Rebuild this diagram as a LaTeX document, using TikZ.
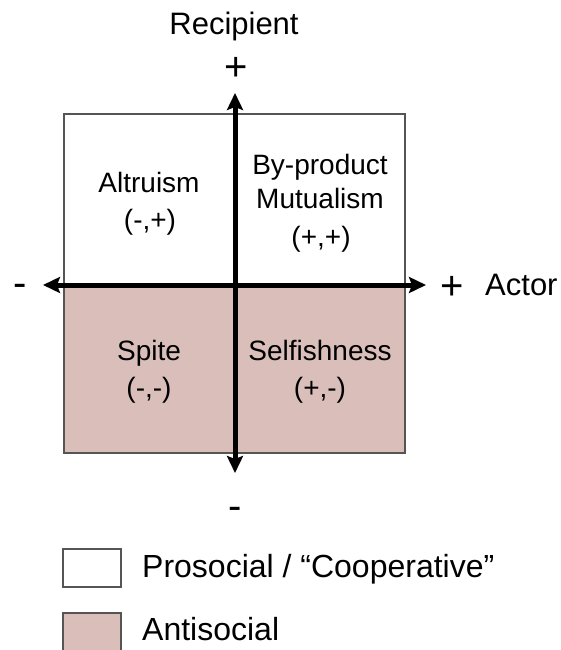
\documentclass[tikz,border=0pt]{standalone}
\usepackage{fontspec}
\setmainfont{Liberation Sans}
\usetikzlibrary{arrows.meta}
\definecolor{pinkfill}{RGB}{217,190,186}
\definecolor{boxgray}{RGB}{85,85,85}
\tikzset{
  quadlabel/.style={anchor=base, inner sep=0pt, font=\fontsize{28}{30}\selectfont},
  signlabel/.style={anchor=base, inner sep=0pt, font=\fontsize{40}{42}\selectfont},
  axislabel/.style={anchor=base, inner sep=0pt, font=\fontsize{31}{33}\selectfont},
  legendtext/.style={anchor=base west, inner sep=0pt, font=\fontsize{32}{34}\selectfont},
  boxline/.style={draw=boxgray, line width=2pt},
  axisline/.style={line width=5pt, {Stealth[length=17pt,width=16pt,inset=3pt]}-{Stealth[length=17pt,width=16pt,inset=3pt]}},
}
\begin{document}
\begin{tikzpicture}[x=1pt,y=-1pt]
\useasboundingbox (0,0) rectangle (560,650);
% quadrant box
\fill[pinkfill] (64,285) rectangle (405,453);
\draw[boxline] (64,114) rectangle (405,453);
% axes
\coordinate (left) at (43,285);
\coordinate (right) at (426,285);
\coordinate (top) at (235,93);
\coordinate (bottom) at (235,473);
\draw[axisline] (left) -- (right);
\draw[axisline] (bottom) -- (top);
% axis labels
\node[axislabel] (recipient) at (234,35) {Recipient};
\node[signlabel] (topplus) at (236,81) {+};
\node[signlabel] (leftminus) at (20,296) {-};
\node[signlabel] (rightplus) at (452,299) {+};
\node[axislabel, anchor=base west] (actor) at (485,295) {Actor};
\node[signlabel] (bottomminus) at (235,519) {-};
% quadrant labels
\node[quadlabel] (altruism) at (149,192) {Altruism};
\node[quadlabel] (altruismsign) at (150,229) {(-,+)};
\node[quadlabel] (byproduct) at (320,174) {By-product};
\node[quadlabel] (mutualism) at (320,208) {Mutualism};
\node[quadlabel] (mutualismsign) at (321,246) {(+,+)};
\node[quadlabel] (spite) at (149,360) {Spite};
\node[quadlabel] (spitesign) at (149,397) {(-,-)};
\node[quadlabel] (selfish) at (320,360) {Selfishness};
\node[quadlabel] (selfishsign) at (320,397) {(+,-)};
% legend
\draw[boxline, fill=white] (63,549) rectangle (121,587);
\draw[boxline, fill=pinkfill] (63,613) rectangle (121,653);
\node[legendtext] (prosocial) at (142,577) {Prosocial / “Cooperative”};
\node[legendtext] (antisocial) at (142,640) {Antisocial};
\end{tikzpicture}
\end{document}
